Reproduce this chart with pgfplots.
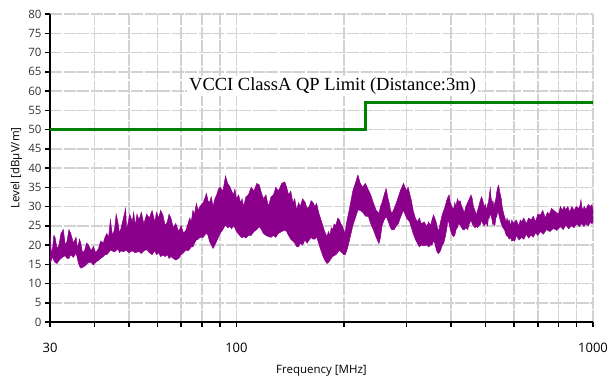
\documentclass[border=0pt]{standalone}
\usepackage{fontspec}
\setmainfont{Open Sans}
\newfontfamily\timesfont{Liberation Serif}
\usepackage{pgfplots}
\pgfplotsset{compat=1.18}
\definecolor{emipurple}{RGB}{139,0,139}
\definecolor{limitgreen}{RGB}{0,128,0}
\definecolor{gridgray}{RGB}{210,210,210}

\begin{document}
\begin{tikzpicture}
\path[use as bounding box] (-50pt,-59pt) rectangle (566pt,322pt);
\begin{axis}[
  at={(0,0)}, anchor=south west,
  scale only axis,
  width=543pt, height=308pt,
  xmode=log,
  xmin=30, xmax=1000,
  ymin=0, ymax=80,
  axis x line*=bottom,
  axis y line*=left,
  axis line style={line width=2pt, black},
  xtick={30,100,1000},
  xticklabels={30,100,1000},
  minor xtick={40,50,60,70,80,90,200,300,400,500,600,700,800,900},
  ytick={0,5,...,80},
  tick align=outside,
  major tick length=5pt,
  minor tick length=5pt,
  every tick/.style={black, line width=1.5pt},
  grid=both,
  grid style={gridgray, line width=1.5pt, dash pattern=on 12pt off 1.5pt},
  minor grid style={gridgray, line width=1.5pt, dash pattern=on 12pt off 1.5pt},
  /pgf/number format/assume math mode=true,
  yticklabel style={font=\fontsize{11.5}{13}\selectfont, text=black!80},
  xticklabel style={font=\fontsize{13}{15}\selectfont, yshift=-13pt},
  xlabel={Frequency [MHz]},
  ylabel={Level [dBµV/m]},
  xlabel style={font=\fontsize{11.5}{13}\selectfont, at={(axis description cs:0.5,-0.159)}, anchor=center},
  ylabel style={font=\fontsize{11.5}{13}\selectfont, at={(axis description cs:-0.062,0.5)}, anchor=center},
]
% measured level: upper envelope 30 -> 1000 MHz, then lower envelope 1000 -> 30 MHz
\addplot[fill=emipurple, draw=emipurple, line width=0.5pt] coordinates {
(30,23) (30.25,18) (30.5,19) (30.75,22.5) (31,22) (31.4,19) (31.8,20) (32.2,23) (32.7,24)
(33.1,20) (33.5,21) (33.9,24) (34.3,23) (34.9,20.5) (35.5,22) (35.75,19.5) (36,20)
(36.3,21.5) (36.6,20.5) (37,18) (37.5,18.5) (38,20.5) (38.5,20) (39.1,18.5) (39.7,19.6)
(40.3,18) (41,19) (41.6,21) (42.3,20.5) (42.8,22) (43.3,23) (43.8,22) (44.3,26.5)
(44.9,22.5) (45.5,24) (46,28) (46.5,26) (47,23) (47.5,24.5) (48.2,27) (48.9,29.5)
(49.2,24) (49.5,25) (50.2,28) (51,26) (51.5,28.5) (52,25) (52.6,28) (53.3,26.5)
(54.1,28.5) (55,25.5) (56,28) (57,27) (58,29) (59,26) (59.7,28.5) (60.5,27) (61.3,29)
(62.2,27.8) (63.1,25) (64,26) (64.7,28) (65.5,27) (66.5,24.5) (67.6,25.6) (68.8,23.5)
(70,25) (71.1,23) (72.2,23.9) (73.1,25.5) (74,27) (74.7,26) (75.5,29) (76.3,28)
(77.2,30.8) (78.1,29) (79,30) (80.7,31) (82.4,33.4) (83.2,31.5) (84,31) (85,32.5)
(86,30) (87,32) (88,33) (89,34.5) (90,35) (91.6,34) (93.2,37.9) (94.5,36) (95.9,35.1)
(97,34) (98,33) (99,34.5) (100,32) (101.4,33) (102.8,30.9) (103.7,32) (104.7,30)
(106.3,32.5) (108,33) (110,35) (112,34) (114,36) (115.9,35.6) (117.5,33.5) (119,32)
(121,33) (122.9,30) (125,32.5) (127,33) (129,35) (131,34) (134,36) (136.6,36.4)
(138.3,35) (140,33) (142,34) (144,31) (145.7,32) (147.5,29.1) (149.3,31) (151,30)
(153.3,32) (155.6,31.2) (157.8,29.5) (160,30) (162,31.5) (164,31) (166,30) (167.8,30.8)
(170,28.5) (172,27) (174,25.5) (176,24) (177.7,23) (179.4,22.2) (181.2,23.5) (183,22.5)
(184.5,24.5) (186,23.9) (188,25.5) (190,25) (192.3,27) (194.6,26.5) (196.3,25.5)
(198,25) (199.8,24) (201.6,23) (203.8,26) (206,28) (209,31) (212,34) (215.5,36)
(219.1,38.2) (222.5,36) (226,35) (230,36) (234.5,34.3) (238,33) (242,31) (246.5,29)
(251,28.2) (253.5,30) (256,31) (259.5,33) (263,34.7) (265.5,32.5) (268,31) (270.5,29)
(273,28.2) (277,29.5) (281,31) (284.5,32.5) (288,34) (291,35) (294,36) (297,35)
(300,34) (303,35) (306,33.4) (309.5,31.5) (313,29) (317.5,27) (322,26) (326,27)
(330,25.5) (336,26) (342,24.8) (346,26) (350,25) (353.5,26.5) (357,27.8) (360,27)
(363,26) (366,24.5) (369,23.5) (373.5,26) (378,28) (381.5,29) (385,30) (388.5,31.5)
(392,32.5) (395,33) (398,31) (402,30) (406,29.1) (409.5,31) (413,30) (416.5,32)
(420,31.2) (424,31.5) (428,30) (431.5,29.5) (435,28.2) (440,30) (445,31) (450,32)
(455,33) (458.5,32) (462,30) (466.5,29) (471,27.8) (474.5,29) (478,30) (482.5,31.5)
(487,32.5) (491,31.5) (495,30) (499,30.5) (503,29) (506,30.5) (509,31) (512,33)
(515,34.7) (518,32) (521,31) (524,31.5) (527,30) (530.5,31) (534,32) (537.5,34)
(541,35.1) (544,35.5) (547,34) (550,33) (553,32) (556,30) (559,29) (562,28)
(565,27.4) (568,26.5) (571,26) (574,27) (577,26) (582,26.5) (587,25) (592,26.5)
(597,25.6) (603,26) (610,26.5) (615,25.5) (620,25) (625,26.5) (631,26) (640,27)
(650,25.5) (660,27) (671,26.5) (680,27.5) (690,26) (700,28) (712,27.8) (723,29)
(735,27) (745,28.5) (755,28) (765,29.5) (774,29.1) (787,28.5) (800,28) (810,30)
(820,29) (830,30) (839,29.1) (850,30) (860,28.5) (872,30) (885,29) (897,30)
(910,29.5) (918,30) (925,31.7) (930,30) (935,29) (945,30) (955,29.2) (970,30.5)
(985,30) (993,30.5) (1000,29)
(1000,26) (993,25.5) (985,26) (970,25) (955,25.5) (943,24.8) (931,25.6) (915,24.8)
(900,25.5) (885,24.5) (870,25) (855,24.2) (839,25.2) (825,24) (810,24.8) (792,23.8)
(774,24.3) (757,23.5) (740,24) (726,22.8) (712,23.5) (700,22.5) (690,23.2) (680,22)
(671,22.6) (660,21.8) (650,22.8) (640,21.5) (631,22) (620,21.3) (610,22.5) (603,21)
(597,21.3) (592,21) (587,22) (582,21.5) (577,22.2) (571,22.5) (565,23.9) (559,24.5)
(553,25.5) (547,27) (541,29.1) (537.5,27.5) (534,27) (530.5,25) (527,25.6) (524,25.2)
(521,26.5) (518,27.5) (515,28.2) (512,27) (509,27) (506,25) (503,25.5) (499,25.5)
(495,25) (491,25.5) (487,26.5) (482.5,25.2) (478,25) (474.5,24.5) (471,24.8)
(466.5,24.5) (462,25) (458.5,25.5) (455,26.5) (450,25.5) (445,24) (440,24.5)
(435,23.9) (431.5,24) (428,24.5) (424,25.2) (420,25.6) (416.5,24.5) (413,24)
(409.5,22.5) (406,22.2) (402,22.8) (398,24) (395,25.5) (392,26.5) (388.5,24) (385,22)
(381.5,20.5) (378,20) (373.5,18.5) (369,17.8) (366,18) (363,19) (360,20.5) (357,21)
(353.5,20) (350,20) (346,19.5) (342,20) (336,19.8) (330,20) (326,19.5) (322,20.4)
(317.5,21.5) (313,23) (309.5,24.5) (306,26) (303,26.5) (300,27) (297,28) (294,29.1)
(291,28) (288,27) (284.5,25.5) (281,25) (277,24) (273,23.9) (270.5,24.5) (268,25.5)
(265.5,26.5) (263,27.4) (259.5,26.5) (256,25) (253.5,22) (251,20.4) (246.5,22)
(242,24) (238,25.5) (234.5,27.4) (230,27.5) (226,28.5) (222.5,29) (219.1,29.1)
(215.5,27) (212,25) (209,22.5) (206,20) (203.8,18.5) (201.6,17.4) (199.8,17.5)
(198,18) (196.3,18.2) (194.6,18.7) (192.3,18) (190,17.5) (188,17.2) (186,17)
(184.5,16.5) (183,16) (181.2,15.5) (179.4,15.2) (177,16) (175,17) (173.5,18) (172,19)
(170,20.5) (167.8,22.2) (166,21.5) (164,21.5) (162,22) (160,21.3) (157.8,20.5)
(155.6,21.3) (153.3,20) (151,20.5) (149.3,19.5) (147.5,19.6) (145.7,20.5) (144,21)
(142,21.5) (140,22.5) (138.3,23.5) (136.6,23.9) (134,23.5) (131,23) (129,22)
(127,22.5) (125,22) (122.9,22.2) (121,22.5) (119,23) (117.5,24) (115.9,24.8) (114,24)
(112,23.5) (110,22.5) (108,22.5) (106.3,21.8) (104.7,22.2) (103.7,21.8) (102.8,22.2)
(101.4,22.8) (100,23.5) (99,24.5) (98,25) (97,24.2) (95.9,24.8) (94.5,24.5)
(93.2,25.2) (91.6,24) (90,23) (89,22) (88,21) (87,20) (86,19.1) (85,20) (84,21)
(83.2,22.5) (82.4,23.1) (80.7,22) (79,22) (78.1,21.5) (77.2,21.3) (76.3,20.5)
(75.5,19.5) (74.7,19.5) (74,19) (73.1,18.5) (72.2,18.7) (71.1,18) (70,17.5)
(68.8,16.5) (67.6,16.1) (66.5,16.5) (65.5,17) (64.7,16.5) (64,17.5) (63.1,17)
(62.2,17.4) (61.3,17) (60.5,18) (59.7,17.5) (59,18.5) (58,17.5) (57,18) (56,18.8)
(55,18.5) (54.1,17.8) (53.3,18.3) (52,18) (51,18.5) (50,18) (48.9,18.7) (48.2,18.2)
(47.5,18.5) (47,18) (46.5,19) (45.5,18.2) (44.3,18.7) (43.8,18) (43.3,17.5)
(42.8,17.5) (42.3,17) (41.6,16.5) (41,16) (40.3,15.5) (39.7,14.8) (39.1,15.5)
(38.5,15.5) (38,15) (37.5,14.5) (37,14.2) (36.6,14) (36.3,14.5) (36,15.5)
(35.75,16.8) (35.5,17.9) (34.9,16.8) (34.3,17.5) (33.9,16.5) (33.5,16.5) (33.1,17.2)
(32.7,17) (32.2,16.5) (31.8,16) (31.4,15.2) (31,15.5) (30.75,16) (30.5,17) (30.25,16)
(30,15.3)
} -- cycle;
% VCCI class A QP limit
\addplot[limitgreen, line width=2.5pt, const plot] coordinates {
(30,50) (230,50) (230,57) (1000,57)
};
\node[fill=white, inner sep=2pt, font=\timesfont\fontsize{18.5}{20}\selectfont]
  at (axis cs:186,61.3) {VCCI ClassA QP Limit (Distance:3m)};
\end{axis}
\end{tikzpicture}
\end{document}
